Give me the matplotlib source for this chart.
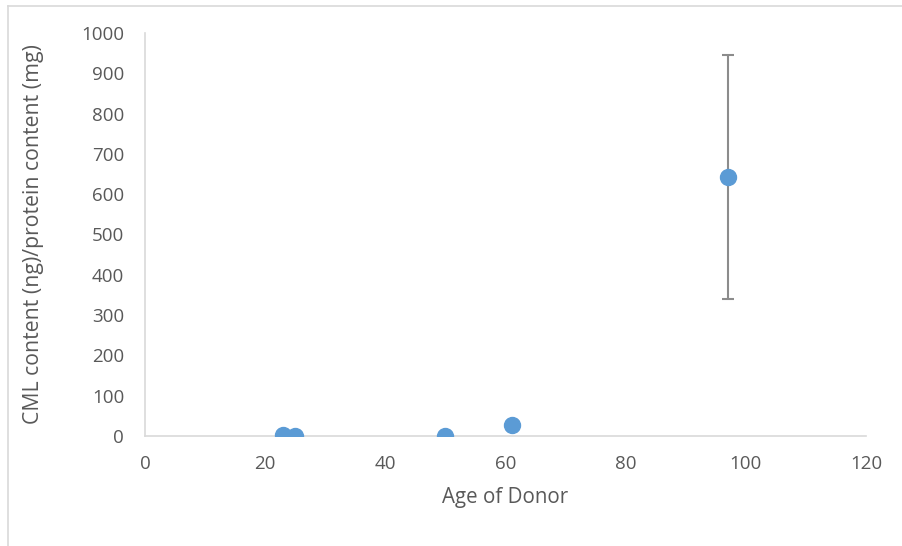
import matplotlib
matplotlib.use('Agg')
import matplotlib.pyplot as plt
from matplotlib.lines import Line2D

# data
age = [23, 25, 50, 61, 97]
cml = [2, 1, 0, 27, 643]
cml_err = [0, 0, 0, 0, 302]

plt.rcParams['font.family'] = ['Open Sans', 'DejaVu Sans']

fig = plt.figure(figsize=(9.03, 5.46), dpi=100)
ax = fig.add_axes([0.1606, 0.2015, 0.7984, 0.7381])

ax.errorbar(age, cml, yerr=cml_err, fmt='none', ecolor='#8c8c8c',
            elinewidth=1.5, capsize=4, capthick=1.5, zorder=2)
ax.plot(age, cml, 'o', color='#5B9BD5', markersize=11.5, zorder=3)

ax.set_xlim(0, 120)
ax.set_ylim(0, 1000)
ax.set_xticks(range(0, 121, 20))
ax.set_yticks(range(0, 1001, 100))

for s in ['top', 'right']:
    ax.spines[s].set_visible(False)
ax.spines['left'].set_color('#d9d9d9')
ax.spines['bottom'].set_color('#d9d9d9')
ax.spines['left'].set_linewidth(1.2)
ax.spines['bottom'].set_linewidth(1.2)
ax.tick_params(axis='both', length=0, labelsize=13.5, colors='#595959')
ax.tick_params(axis='y', pad=15)
ax.tick_params(axis='x', pad=14)

ax.set_xlabel('Age of Donor', fontsize=14.8, color='#595959', labelpad=10)
ax.set_ylabel('CML content (ng)/protein content (mg)', fontsize=15.3,
              color='#595959', labelpad=27)

# chart frame (left and top edges visible)
fig.add_artist(Line2D([8/903, 8/903], [0, 1 - 6/546], transform=fig.transFigure,
                      color='#d9d9d9', lw=1.2))
fig.add_artist(Line2D([8/903, 1], [1 - 6/546, 1 - 6/546], transform=fig.transFigure,
                      color='#d9d9d9', lw=1.2))

plt.savefig('out.png', dpi=100)
